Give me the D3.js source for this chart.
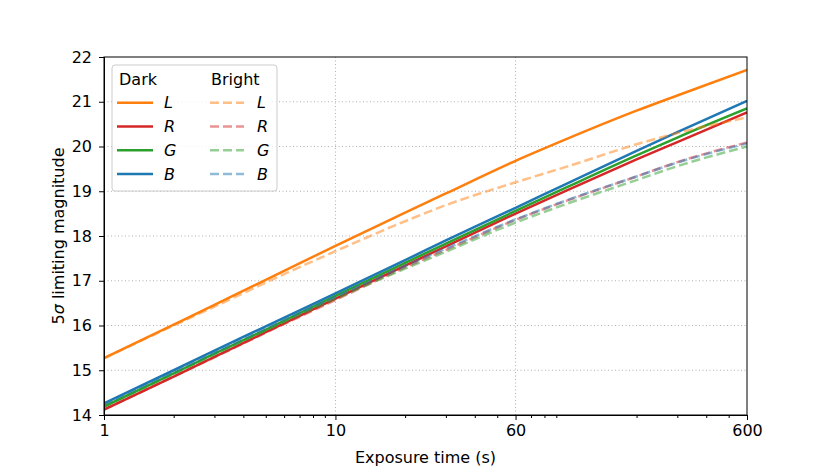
<!DOCTYPE html>
<html>
<head>
<meta charset="utf-8">
<script src="https://cdn.jsdelivr.net/npm/d3@7"></script>
<style>
  body { margin: 0; background: #fff; }
  svg { font-family: "DejaVu Sans", sans-serif; }
</style>
</head>
<body>
<script>
// exposure times (s) and limiting magnitudes
var times = [1, 2, 3, 5, 10, 20, 30, 60, 100, 200, 300, 600];

var darkL = [15.27, 16.02, 16.46, 17.02, 17.78, 18.52, 18.95, 19.68, 20.17, 20.8, 21.14, 21.71];
var darkR = [14.12, 14.86, 15.3, 15.85, 16.6, 17.34, 17.77, 18.5, 19.02, 19.71, 20.1, 20.76];
var darkG = [14.19, 14.93, 15.37, 15.91, 16.66, 17.4, 17.83, 18.56, 19.09, 19.8, 20.2, 20.85];
var darkB = [14.26, 15.0, 15.44, 15.98, 16.72, 17.46, 17.9, 18.63, 19.17, 19.9, 20.32, 21.02];

var brightL = [15.27, 16.0, 16.42, 16.96, 17.66, 18.33, 18.69, 19.2, 19.55, 20.05, 20.3, 20.65];
var brightR = [14.12, 14.86, 15.29, 15.84, 16.57, 17.3, 17.69, 18.36, 18.79, 19.33, 19.65, 20.09];
var brightG = [14.19, 14.92, 15.35, 15.89, 16.6, 17.27, 17.65, 18.3, 18.72, 19.25, 19.56, 20.0];
var brightB = [14.24, 14.97, 15.4, 15.94, 16.64, 17.33, 17.72, 18.37, 18.8, 19.33, 19.64, 20.07];

var bands = ["L", "R", "G", "B"];
var colors = ["#ff7f0e", "#d62728", "#2ca02c", "#1f77b4"];

var xTicks = [1, 10, 60, 600];
var xMinor = [2, 3, 4, 5, 6, 7, 8, 9, 20, 30, 40, 50, 70, 80, 90, 200, 300, 400, 500];
var yTicks = [14, 15, 16, 17, 18, 19, 20, 21, 22];

var margin = {top: 57, right: 83, bottom: 60, left: 104},
    width = 830 - margin.left - margin.right,
    height = 475 - margin.top - margin.bottom;

var svg = d3.select("body").append("svg")
    .attr("width", 830)
    .attr("height", 475);

var g = svg.append("g")
    .attr("transform", "translate(" + margin.left + "," + margin.top + ")");

var x = d3.scaleLog().domain([1, 600]).range([0, width]);
var y = d3.scaleLinear().domain([14, 22]).range([height, 0]);

// grid
g.append("g").selectAll("line")
    .data(yTicks.slice(1, -1))
  .enter().append("line")
    .attr("x1", 0).attr("x2", width)
    .attr("y1", function(d) { return y(d); })
    .attr("y2", function(d) { return y(d); })
    .attr("stroke", "#b0b0b0").attr("stroke-width", 1)
    .attr("stroke-dasharray", "1,2.5");

g.append("g").selectAll("line")
    .data(xTicks.slice(1, -1))
  .enter().append("line")
    .attr("y1", 0).attr("y2", height)
    .attr("x1", function(d) { return x(d); })
    .attr("x2", function(d) { return x(d); })
    .attr("stroke", "#b0b0b0").attr("stroke-width", 1)
    .attr("stroke-dasharray", "1,2.5");

// lines
var line = d3.line()
    .x(function(d, i) { return x(times[i]); })
    .y(function(d) { return y(d); })
    .curve(d3.curveMonotoneX);

g.append("clipPath").attr("id", "clip")
  .append("rect").attr("width", width).attr("height", height);

var plot = g.append("g").attr("clip-path", "url(#clip)");

var brightSeries = [brightL, brightR, brightG, brightB];
var darkSeries = [darkL, darkR, darkG, darkB];

darkSeries.forEach(function(s, i) {
  plot.append("path")
      .attr("d", line(s))
      .attr("fill", "none")
      .attr("stroke", colors[i])
      .attr("stroke-width", 2.5);
});

brightSeries.forEach(function(s, i) {
  plot.append("path")
      .attr("d", line(s))
      .attr("fill", "none")
      .attr("stroke", colors[i])
      .attr("stroke-opacity", 0.5)
      .attr("stroke-width", 2.5)
      .attr("stroke-dasharray", "9,4");
});

// axes
g.append("g")
    .attr("transform", "translate(0," + height + ")")
    .call(d3.axisBottom(x).tickValues(xTicks).tickFormat(d3.format("d")).tickSize(5).tickPadding(5));

g.append("g")
    .attr("transform", "translate(0," + height + ")")
    .call(d3.axisBottom(x).tickValues(xMinor).tickFormat("").tickSize(3))
    .select(".domain").remove();

g.append("g")
    .call(d3.axisLeft(y).tickValues(yTicks).tickSize(5).tickPadding(7));

g.selectAll(".tick text")
    .attr("font-size", 16)
    .attr("font-family", "DejaVu Sans, sans-serif")
    .attr("fill", "#000");
g.selectAll(".tick line").attr("stroke", "#000");

g.append("rect")
    .attr("width", width).attr("height", height)
    .attr("fill", "none").attr("stroke", "#000").attr("stroke-width", 1);

// axis labels
g.append("text")
    .attr("x", width / 2).attr("y", height + 48)
    .attr("text-anchor", "middle")
    .attr("font-size", 16)
    .text("Exposure time (s)");

var yl = g.append("text")
    .attr("transform", "translate(-40," + (height / 2) + ") rotate(-90)")
    .attr("text-anchor", "middle")
    .attr("font-size", 16);
yl.append("tspan").text("5");
yl.append("tspan").attr("font-style", "italic").text("σ");
yl.append("tspan").text(" limiting magnitude");

// legend
var leg = svg.append("g").attr("transform", "translate(112,65)");
leg.append("rect")
    .attr("width", 165).attr("height", 126)
    .attr("rx", 3)
    .attr("fill", "#fff").attr("fill-opacity", 0.8)
    .attr("stroke", "#cccccc").attr("stroke-width", 1);

leg.append("text").attr("x", 7).attr("y", 20).attr("font-size", 16).text("Dark");
leg.append("text").attr("x", 99).attr("y", 20).attr("font-size", 16).text("Bright");

bands.forEach(function(b, i) {
  var ry = 37.7 + i * 23.8;
  leg.append("line")
      .attr("x1", 5).attr("x2", 41).attr("y1", ry).attr("y2", ry)
      .attr("stroke", colors[i]).attr("stroke-width", 2.5);
  leg.append("text")
      .attr("x", 52).attr("y", ry + 5.7).attr("font-size", 16)
      .attr("font-style", "italic").text(b);
  leg.append("line")
      .attr("x1", 98).attr("x2", 132).attr("y1", ry).attr("y2", ry)
      .attr("stroke", colors[i]).attr("stroke-opacity", 0.5)
      .attr("stroke-width", 2.5).attr("stroke-dasharray", "9,4");
  leg.append("text")
      .attr("x", 145).attr("y", ry + 5.7).attr("font-size", 16)
      .attr("font-style", "italic").text(b);
});
</script>
</body>
</html>
